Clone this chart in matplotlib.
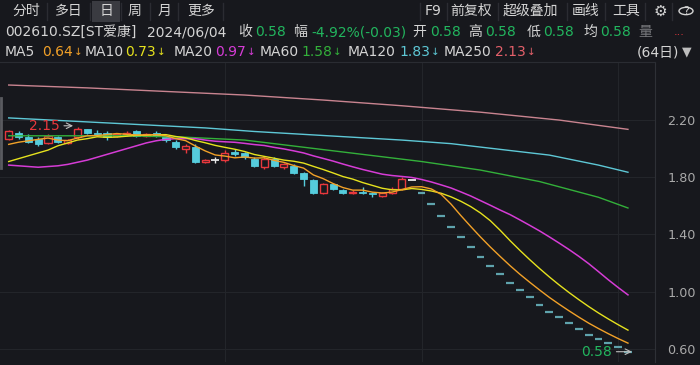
import matplotlib
matplotlib.use('Agg')
import matplotlib.pyplot as plt
from matplotlib.patches import Rectangle, Circle
from matplotlib.lines import Line2D
import pandas as pd

plt.rcParams['font.family'] = ['DejaVu Sans', 'Noto Sans CJK SC']

# ---- daily bars, 002610.SZ, last 64 days (前复权) ----
opens  = [2.07, 2.11, 2.08, 2.07, 2.04, 2.08, 2.04, 2.08, 2.14, 2.11,
          2.11, 2.09, 2.10, 2.12, 2.09, 2.11, 2.08, 2.05, 2.00, 2.01,
          1.91, 1.92, 1.92, 1.98, 1.97, 1.93, 1.87, 1.93, 1.87, 1.88,
          1.83, 1.78, 1.69, 1.75, 1.71, 1.69, 1.70, 1.69, 1.67, 1.69,
          1.72, 1.78]
highs  = [2.13, 2.12, 2.10, 2.08, 2.10, 2.09, 2.07, 2.15, 2.14, 2.13,
          2.12, 2.11, 2.12, 2.13, 2.11, 2.12, 2.09, 2.06, 2.03, 2.03,
          1.93, 1.94, 1.99, 2.00, 1.98, 1.94, 1.94, 1.94, 1.90, 1.89,
          1.84, 1.79, 1.76, 1.76, 1.72, 1.71, 1.73, 1.70, 1.70, 1.73,
          1.80, 1.78]
lows   = [2.06, 2.07, 2.04, 2.02, 2.03, 2.04, 2.03, 2.07, 2.10, 2.09,
          2.06, 2.08, 2.09, 2.08, 2.08, 2.08, 2.05, 2.00, 1.97, 1.90,
          1.90, 1.90, 1.91, 1.95, 1.93, 1.87, 1.86, 1.87, 1.86, 1.82,
          1.74, 1.68, 1.68, 1.71, 1.68, 1.68, 1.68, 1.66, 1.66, 1.68,
          1.71, 1.78]
closes = [2.12, 2.08, 2.05, 2.03, 2.09, 2.05, 2.06, 2.14, 2.11, 2.10,
          2.08, 2.10, 2.11, 2.09, 2.10, 2.09, 2.06, 2.01, 2.02, 1.91,
          1.92, 1.92, 1.97, 1.96, 1.94, 1.88, 1.93, 1.88, 1.89, 1.83,
          1.79, 1.69, 1.75, 1.72, 1.69, 1.70, 1.69, 1.68, 1.69, 1.72,
          1.79, 1.78]
# one-price limit-down days (open = high = low = close)
limit_down = [1.69, 1.61, 1.53, 1.45, 1.38, 1.31, 1.24, 1.18, 1.12, 1.06, 1.01,
              0.96, 0.91, 0.86, 0.82, 0.78, 0.74, 0.70, 0.67, 0.64, 0.61, 0.58]

# moving averages before enough visible history exists
ma5_head  = [2.03, 2.045, 2.055, 2.065]
ma10_head = [1.91, 1.93, 1.95, 1.97, 1.99, 2.02, 2.04, 2.06, 2.07]
ma20_head = [1.885, 1.88, 1.875, 1.87, 1.875, 1.88, 1.89, 1.905, 1.92, 1.94,
             1.96, 1.98, 2.00, 2.02, 2.04, 2.055, 2.065, 2.07, 2.07]
# long averages, read at sample days
ma60_days  = [0, 6, 12, 18, 24, 30, 36, 42, 48, 54, 60, 63]
ma60_vals  = [2.09, 2.09, 2.09, 2.08, 2.06, 2.01, 1.96, 1.91, 1.85, 1.77, 1.66, 1.585]
ma120_days = [0, 10, 20, 25, 30, 35, 40, 45, 50, 55, 60, 63]
ma120_vals = [2.215, 2.18, 2.145, 2.12, 2.10, 2.08, 2.06, 2.035, 1.995, 1.955, 1.885, 1.835]
ma250_days = [0, 8, 16, 24, 32, 40, 48, 56, 63]
ma250_vals = [2.445, 2.425, 2.40, 2.375, 2.34, 2.30, 2.255, 2.20, 2.135]

# last values shown in the legend row
ma_names = ['MA5', 'MA10', 'MA20', 'MA60', 'MA120', 'MA250']
ma_last = ['0.64', '0.73', '0.97', '1.58', '1.83', '2.13']

price_ticks = [0.60, 1.00, 1.40, 1.80, 2.20]
high_mark = (7, 2.15)
low_mark = (63, 0.58)

bg = '#17181d'
txt = '#d4d4d4'
red = '#e8383d'
cyan = '#55ccdc'
green = '#22b55e'
c_ma5, c_ma10, c_ma20 = '#f2a128', '#e6e21e', '#d63cd6'
c_ma60, c_ma120, c_ma250 = '#33b03a', '#5ec8d6', '#c98490'

n_c = len(closes)
O = opens + limit_down
H = highs + limit_down
L = lows + limit_down
C = closes + limit_down
n = len(C)

cs = pd.Series(C)
ma5 = cs.rolling(5).mean().tolist()
ma10 = cs.rolling(10).mean().tolist()
ma20 = cs.rolling(20).mean().tolist()
ma5[:len(ma5_head)] = ma5_head
ma10[:len(ma10_head)] = ma10_head
ma20[:len(ma20_head)] = ma20_head

fig = plt.figure(figsize=(7, 3.65), dpi=100, facecolor=bg)

def fx(x):
    return x / 700.0

def fy(y):
    return 1 - y / 365.0

ax = fig.add_axes([0, fy(362), fx(655), (362 - 62) / 365.0])
ax.set_facecolor(bg)
ax.set_xlim(-0.885, 65.75)
ax.set_ylim(0.508, 2.606)

for s in ['left', 'bottom']:
    ax.spines[s].set_visible(False)
ax.spines['top'].set_color('#2a2c32')
ax.spines['right'].set_color('#2e3036')
ax.yaxis.tick_right()
ax.set_yticks(price_ticks)
ax.set_yticklabels(['%.2f' % v for v in price_ticks])
ax.tick_params(axis='y', length=0, pad=9, labelcolor='#a9a9a9', labelsize=9.2)
ax.set_xticks([])
for v in price_ticks:
    ax.axhline(v, color='#23252a', lw=0.8, zorder=0)
for d in [22, 42, 62]:
    ax.axvline(d, color='#23252a', lw=0.8, zorder=0)

# candles
w = 0.72
for i in range(n):
    o, h, l, c = O[i], H[i], L[i], C[i]
    if i >= n_c:
        ax.hlines(c, i - 0.4, i + 0.4, color='#5fa3ad', lw=1.6, zorder=2)
    elif c > o:
        ax.vlines(i, c, h, color=red, lw=1, zorder=2)
        ax.vlines(i, l, o, color=red, lw=1, zorder=2)
        ax.add_patch(Rectangle((i - w / 2, o), w, c - o, facecolor=bg,
                               edgecolor=red, lw=1, zorder=2))
    elif c < o:
        ax.vlines(i, l, h, color=cyan, lw=1, zorder=2)
        ax.add_patch(Rectangle((i - w / 2, c), w, o - c, facecolor=cyan,
                               edgecolor=cyan, lw=0.6, zorder=2))
    else:
        ax.vlines(i, l, h, color='#e8e8e8', lw=1, zorder=2)
        ax.hlines(c, i - 0.4, i + 0.4, color='#e8e8e8', lw=1.3, zorder=2)

days = list(range(n))
ax.plot(ma250_days, ma250_vals, color=c_ma250, lw=1, zorder=3)
ax.plot(ma120_days, ma120_vals, color=c_ma120, lw=1, zorder=3)
ax.plot(ma60_days, ma60_vals, color=c_ma60, lw=1, zorder=3)
ax.plot(days, ma20, color=c_ma20, lw=1.1, zorder=3)
ax.plot(days, ma10, color=c_ma10, lw=1, zorder=3)
ax.plot(days, ma5, color=c_ma5, lw=1, zorder=3)

ax.annotate('%.2f' % high_mark[1], xy=(high_mark[0] - 0.45, high_mark[1] + 0.01),
            xytext=(high_mark[0] - 1.8, high_mark[1] + 0.01),
            ha='right', va='center', color=red, fontsize=10,
            arrowprops=dict(arrowstyle='->', color='#bdbdbd', lw=0.8,
                            shrinkA=1, shrinkB=0), zorder=5)
ax.annotate('%.2f' % low_mark[1], xy=(low_mark[0] + 0.4, low_mark[1]),
            xytext=(low_mark[0] - 1.6, low_mark[1]),
            ha='right', va='center', color=green, fontsize=10,
            arrowprops=dict(arrowstyle='->', color='#bdbdbd', lw=0.8,
                            shrinkA=1, shrinkB=0), zorder=5)

# scroll indicator on the left edge
fig.add_artist(Line2D([fx(1), fx(1)], [fy(98), fy(168)], color='#5a5b60', lw=2))

# ---- header ----
fs = 10
fig.add_artist(Rectangle((fx(92), fy(22)), fx(28), 21 / 365.0,
                         facecolor='#3a3b41', edgecolor='none'))
for sx in [47, 90, 121, 150, 178, 223, 420, 447, 498, 567, 605, 645, 672]:
    fig.add_artist(Line2D([fx(sx), fx(sx)], [fy(3), fy(20)], color='#2b2c32', lw=1))

row1 = [(12, '分时'), (55, '多日'), (100, '日'), (128, '周'), (158, '月'),
        (187, '更多'), (425, 'F9'), (450, '前复权'), (503, '超级叠加'),
        (572, '画线'), (612, '工具')]
for x, s in row1:
    fig.text(fx(x), fy(11), s, color=txt, fontsize=fs, va='center', ha='left')
fig.text(fx(660), fy(11), '⚙', color=txt, fontsize=11, va='center', ha='center')
fig.add_artist(Circle((fx(686), fy(11)), 7 / 700.0, facecolor='none',
                      edgecolor=txt, lw=1, transform=fig.transFigure))
fig.text(fx(686), fy(11), '?', color=txt, fontsize=8, va='center', ha='center')

row2 = [(5, '002610.SZ[ST爱康]', txt), (147, '2024/06/04', txt),
        (238, '收', txt), (255, '0.58', green), (293, '幅', txt),
        (311, '-4.92%(-0.03)', green), (412, '开', txt), (430, '0.58', green),
        (468, '高', txt), (485, '0.58', green), (527, '低', txt),
        (543, '0.58', green), (583, '均', txt), (600, '0.58', green),
        (638, '量', '#77787c')]
for x, s, col in row2:
    fig.text(fx(x), fy(32), s, color=col, fontsize=fs, va='center', ha='left')
fig.text(fx(674), fy(32), '...', color=red, fontsize=8, va='center', ha='left')

# MA legend row: name, value, down arrow
name_x = [5, 85, 174, 260, 348, 444]
val_x = [42, 125, 215, 301, 399, 495]
ma_cols = [c_ma5, c_ma10, c_ma20, c_ma60, c_ma120, '#e4606a']
for nm, v, xn, xv, col in zip(ma_names, ma_last, name_x, val_x, ma_cols):
    fig.text(fx(xn), fy(52), nm, color=txt, fontsize=fs, va='center', ha='left')
    fig.text(fx(xv), fy(52), v, color=col, fontsize=fs, va='center', ha='left')
    fig.text(fx(xv + 32), fy(52), '↓', color=col, fontsize=7.5, va='center', ha='left')
fig.text(fx(637), fy(52), '(64日)', color=txt, fontsize=fs, va='center', ha='left')
fig.text(fx(687), fy(52), '▼', color='#bdbdbd', fontsize=9, va='center', ha='center')

fig.savefig('out.png', dpi=100, facecolor=bg)
